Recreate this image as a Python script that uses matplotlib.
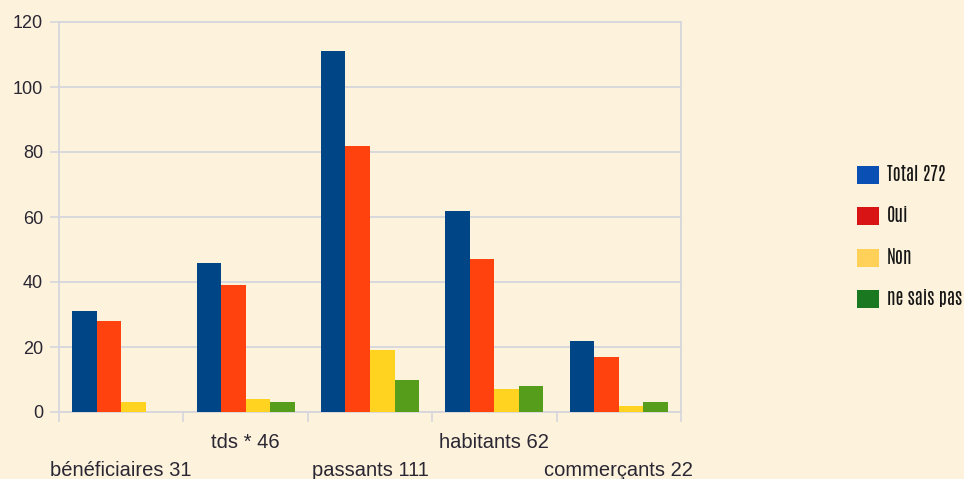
import matplotlib
matplotlib.use("Agg")
import matplotlib.pyplot as plt
from matplotlib.patches import Patch
from matplotlib import font_manager
import numpy as np
import logging
logging.getLogger("matplotlib.font_manager").setLevel(logging.ERROR)

categories = ["bénéficiaires 31", "tds * 46", "passants 111", "habitants 62", "commerçants 22"]
series_names = ["Total 272", "Oui", "Non", "ne sais pas"]
total = [31, 46, 111, 62, 22]
oui = [28, 39, 82, 47, 17]
non = [3, 4, 19, 7, 2]
nsp = [0, 3, 10, 8, 3]
yticks = [0, 20, 40, 60, 80, 100, 120]

bar_colors = ["#004586", "#ff420e", "#ffd320", "#579d1c"]
legend_colors = ["#0a4fb4", "#d81414", "#ffd158", "#1a7820"]
bg = "#fdf3dc"
grid_c = "#d6d6dc"
text_c = "#2a2633"

fig = plt.figure(figsize=(9.64, 4.79), dpi=100, facecolor=bg)
ax = fig.add_axes([59/964, 67/479, 622/964, 390/479], facecolor=bg)

x = np.arange(len(categories))
w = 0.197
for k, vals in enumerate([total, oui, non, nsp]):
    ax.bar(x + (k - 1.5) * w, vals, width=w, color=bar_colors[k], zorder=3, linewidth=0)

ax.set_xlim(-0.5, len(categories) - 0.5)
ax.set_ylim(0, 120)
ax.set_yticks(yticks)
ax.set_yticklabels([str(t) for t in yticks], fontsize=13, color=text_c,
                   family="Liberation Sans")
ax.yaxis.grid(True, color=grid_c, linewidth=1.3, zorder=0)
ax.set_axisbelow(True)
ax.tick_params(axis="y", length=6.5, width=1.2, color=grid_c, pad=5)

labels = [("\n" + c) if i % 2 == 0 else c for i, c in enumerate(categories)]
ax.set_xticks(x)
ax.set_xticklabels(labels, fontsize=14.5, color=text_c, family="Liberation Sans",
                   linespacing=1.6)
ax.tick_params(axis="x", which="major", length=0, pad=15)
ax.set_xticks(np.arange(-0.5, len(categories), 1.0), minor=True)
ax.tick_params(axis="x", which="minor", length=7.5, width=1.2, color=grid_c)

for s in ax.spines.values():
    s.set_color(grid_c)
    s.set_linewidth(1.3)

handles = [Patch(facecolor=c, edgecolor="none") for c in legend_colors]
fp = font_manager.FontProperties(family=["Antonio", "Liberation Sans Narrow", "DejaVu Sans"],
                                 weight="bold", size=13)
leg = fig.legend(handles, series_names, loc="upper left",
                 bbox_to_anchor=(857/964, 1 - 165/479), frameon=False,
                 prop=fp, handlelength=1.2, handleheight=1.15,
                 labelspacing=1.25, handletextpad=0.45, borderpad=0, borderaxespad=0)
for t in leg.get_texts():
    t.set_color("#151515")

fig.savefig("out.png", dpi=100, facecolor=bg)
